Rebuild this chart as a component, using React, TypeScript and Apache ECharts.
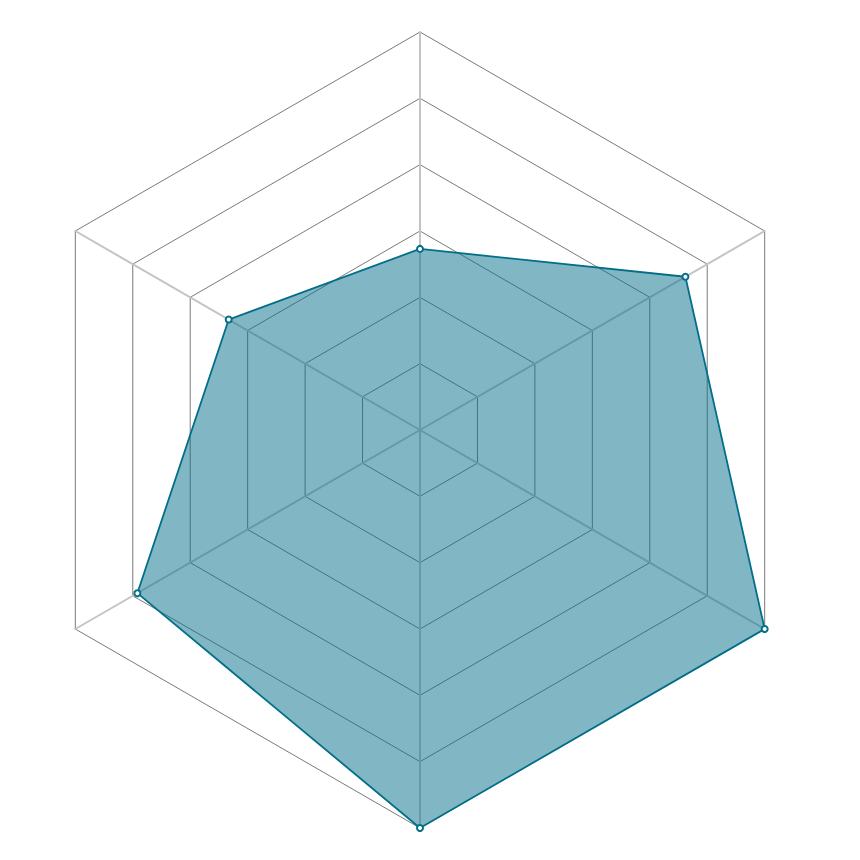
import React, { useEffect, useRef } from "react";
import * as echarts from "echarts";

// indicator order: top, then counter-clockwise
const indicators = ["A", "B", "C", "D", "E", "F"];
const values = [45.5, 55.5, 82, 100, 100, 77];
const maxValue = 100;

const App: React.FC = () => {
  const chartRef = useRef<HTMLDivElement>(null);

  useEffect(() => {
    document.body.style.margin = "0";
    if (!chartRef.current) return;
    const chart = echarts.init(chartRef.current, null, { renderer: "svg" });
    chart.setOption({
      animation: false,
      radar: {
        center: [420, 430],
        radius: 398,
        startAngle: 90,
        splitNumber: 6,
        shape: "polygon",
        indicator: indicators.map((name) => ({ name, max: maxValue })),
        axisName: { show: false },
        axisLine: { lineStyle: { color: "#c4c4c4", width: 2 } },
        splitLine: { lineStyle: { color: "#7a7a7a", width: 1 } },
        splitArea: { show: false },
      },
      series: [
        {
          type: "radar",
          symbol: "emptyCircle",
          symbolSize: 6,
          itemStyle: { color: "#036f89", borderColor: "#036f89", borderWidth: 1.5 },
          lineStyle: { color: "#036f89", width: 1.8 },
          areaStyle: { color: "#036f89", opacity: 0.5 },
          data: [{ value: values, name: "series" }],
        },
      ],
    });
    return () => chart.dispose();
  }, []);

  return <div ref={chartRef} style={{ width: 860, height: 860 }} />;
};

export default App;
